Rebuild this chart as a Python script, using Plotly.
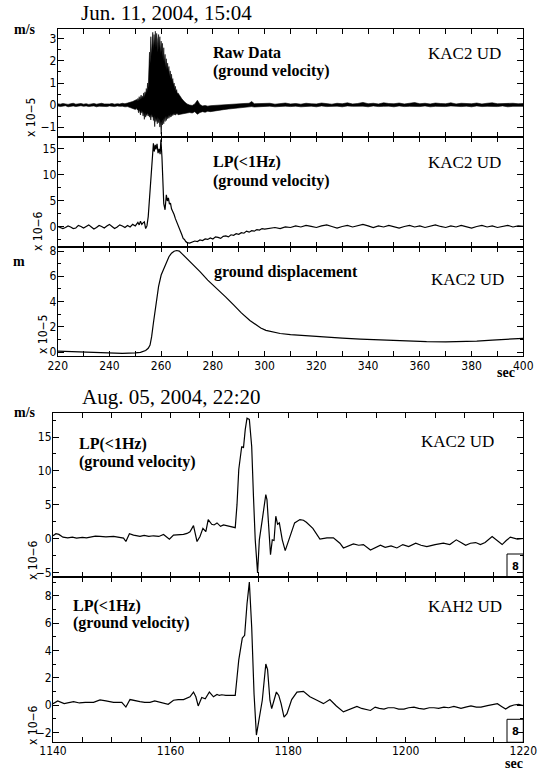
import plotly.graph_objects as go

# ---------------- data ----------------
# Jun. 11 event, KAC2 UD raw velocity (x1e-5 m/s): upper / lower envelope of the dense trace
raw_t_a = [220, 221, 222, 223, 224, 225, 226, 227, 228, 229,
           230, 231, 232, 233, 234, 235, 236, 237, 238, 239,
           240, 241, 242, 243, 244, 245, 246, 247, 248, 249, 250]
raw_hi_a = [0.06, 0.04, 0.07, 0.05, 0.03, 0.06, 0.08, 0.04, 0.05, 0.07,
            0.04, 0.06, 0.03, 0.05, 0.07, 0.04, 0.06, 0.08, 0.05, 0.04,
            0.05, 0.07, 0.04, 0.06, 0.05, 0.08, 0.06, 0.09, 0.12, 0.16, 0.22]
raw_lo_a = [-0.04, -0.07, -0.05, -0.03, -0.08, -0.05, -0.04, -0.07, -0.06, -0.03,
            -0.06, -0.04, -0.07, -0.05, -0.04, -0.08, -0.05, -0.03, -0.06, -0.07,
            -0.04, -0.05, -0.07, -0.04, -0.06, -0.05, -0.08, -0.07, -0.12, -0.15, -0.20]

raw_t_b = [250.5, 250.75, 251, 251.25, 251.5, 251.75, 252, 252.25, 252.5, 252.75,
           253, 253.25, 253.5, 253.75, 254, 254.25, 254.5, 254.75, 255, 255.25,
           255.5, 255.75, 256, 256.25, 256.5, 256.75, 257, 257.25, 257.5, 257.75,
           258, 258.25, 258.5, 258.75, 259, 259.25, 259.5, 259.75, 260, 260.25,
           260.5, 260.75, 261, 261.25, 261.5, 261.75, 262, 262.25, 262.5, 262.75,
           263, 263.25, 263.5, 263.75, 264, 264.25, 264.5, 264.75, 265, 265.25,
           265.5, 265.75, 266, 266.25, 266.5]
raw_hi_b = [0.25, 0.18, 0.30, 0.20, 0.38, 0.22, 0.30, 0.45, 0.28, 0.40,
            0.32, 0.55, 0.35, 0.60, 0.45, 0.75, 0.55, 1.00, 0.80, 1.60,
            2.40, 1.90, 3.10, 2.20, 2.90, 3.30, 2.50, 3.20, 2.70, 3.35,
            2.60, 3.25, 3.00, 2.40, 3.20, 2.60, 3.10, 2.30, 2.90, 2.40,
            2.80, 2.00, 2.60, 1.90, 2.30, 1.70, 2.10, 1.60, 1.90, 1.50,
            1.75, 1.30, 1.55, 1.20, 1.40, 1.05, 1.20, 0.90, 1.00, 0.75,
            0.85, 0.60, 0.70, 0.50, 0.55]
raw_lo_b = [-0.15, -0.22, -0.18, -0.35, -0.20, -0.30, -0.45, -0.25, -0.35, -0.28,
            -0.50, -0.30, -0.65, -0.35, -0.55, -0.40, -0.48, -0.35, -0.50, -0.40,
            -0.55, -0.45, -0.68, -0.40, -0.55, -0.45, -0.70, -0.50, -0.98, -0.55,
            -0.75, -0.60, -0.85, -0.55, -0.80, -0.65, -1.00, -0.70, -1.32, -0.75,
            -0.90, -0.60, -0.85, -0.55, -0.75, -0.50, -0.70, -0.50, -0.62, -0.45,
            -0.60, -0.45, -0.55, -0.42, -0.52, -0.40, -0.48, -0.38, -0.45, -0.38,
            -0.46, -0.36, -0.42, -0.38, -0.44]

raw_t_c = [267, 268, 269, 270, 271, 272, 273, 274, 275, 276,
           277, 278, 279, 280, 282, 284, 286, 288, 290, 292,
           294, 295, 296, 298, 300, 302, 304, 306, 308, 310,
           312, 314, 316, 318, 320, 322, 324, 326, 328, 330,
           332, 334, 336, 338, 340, 342, 344, 346, 348, 350,
           352, 354, 356, 358, 360, 362, 364, 366, 368, 370,
           372, 374, 376, 378, 380, 382, 384, 386, 388, 390,
           392, 394, 396, 398, 400]
raw_hi_c = [0.45, 0.28, 0.15, 0.05, 0.00, -0.02, 0.05, 0.22, 0.02, -0.04,
            -0.02, -0.05, -0.03, -0.02, 0.00, 0.02, 0.03, 0.04, 0.06, 0.07,
            0.08, 0.16, 0.06, 0.07, 0.05, 0.08, 0.04, 0.06, 0.09, 0.05,
            0.07, 0.04, 0.08, 0.06, 0.05, 0.09, 0.07, 0.04, 0.08, 0.06,
            0.10, 0.05, 0.07, 0.12, 0.06, 0.08, 0.05, 0.10, 0.07, 0.06,
            0.09, 0.05, 0.08, 0.11, 0.06, 0.08, 0.05, 0.09, 0.07, 0.06,
            0.10, 0.05, 0.08, 0.07, 0.06, 0.09, 0.05, 0.08, 0.10, 0.06,
            0.07, 0.05, 0.08, 0.06, 0.07]
raw_lo_c = [-0.40, -0.40, -0.38, -0.36, -0.34, -0.36, -0.30, -0.42, -0.34, -0.30,
            -0.33, -0.28, -0.30, -0.26, -0.24, -0.21, -0.18, -0.15, -0.11, -0.09,
            -0.08, -0.07, -0.09, -0.06, -0.07, -0.05, -0.08, -0.06, -0.05, -0.07,
            -0.05, -0.08, -0.06, -0.05, -0.08, -0.04, -0.07, -0.06, -0.05, -0.08,
            -0.04, -0.06, -0.07, -0.05, -0.08, -0.04, -0.07, -0.06, -0.05, -0.08,
            -0.04, -0.07, -0.06, -0.05, -0.07, -0.04, -0.08, -0.06, -0.05, -0.07,
            -0.04, -0.06, -0.07, -0.05, -0.08, -0.04, -0.07, -0.06, -0.05, -0.07,
            -0.04, -0.08, -0.06, -0.05, -0.06]

raw_t = raw_t_a + raw_t_b + raw_t_c
raw_hi = raw_hi_a + raw_hi_b + raw_hi_c
raw_lo = raw_lo_a + raw_lo_b + raw_lo_c

# Jun. 11 event, LP(<1Hz) velocity (x1e-6 m/s)
lp1_t = [220, 221, 222, 223, 224, 225, 226, 227, 228, 229,
         230, 231, 232, 233, 234, 235, 236, 237, 238, 239,
         240, 241, 242, 243, 244, 245, 246, 247, 248, 249,
         250, 251, 251.5, 252, 252.5, 253, 253.5, 254, 254.5, 255,
         255.5, 256, 256.5, 257, 257.3, 257.7, 258, 258.4, 258.8, 259.2,
         259.6, 259.9, 260.3, 260.7, 261, 261.5, 262, 262.4, 262.8, 263.2,
         263.6, 264, 264.5, 265, 265.5, 266, 266.5, 267, 267.5, 268,
         268.5, 269, 269.5, 270, 271, 272, 273, 274, 275, 276,
         277, 278, 279, 280, 281, 282, 283, 284, 285, 286,
         287, 288, 289, 290, 291, 292, 293, 294, 295, 296,
         297, 298, 299, 300, 302, 304, 306, 308, 310, 312,
         314, 316, 318, 320, 322, 324, 326, 328, 330, 332,
         334, 336, 338, 340, 342, 344, 346, 348, 350, 352,
         354, 356, 358, 360, 362, 364, 366, 368, 370, 372,
         374, 376, 378, 380, 382, 384, 386, 388, 390, 392,
         394, 396, 398, 400]
lp1_v = [0.1, -0.1, -0.3, -0.1, 0.2, 0.0, -0.3, -0.2, 0.3, 0.1,
         -0.2, 0.1, 0.4, 0.0, -0.4, -0.1, 0.3, 0.1, -0.2, 0.2,
         0.5, 0.1, -0.3, 0.0, 0.4, 0.2, -0.1, 0.3, 0.0, 0.5,
         0.2, 0.9, 0.4, 1.1, 0.5, 0.8, 1.0, -0.3, 0.2, 2.0,
         5.5, 9.5, 13.0, 16.1, 14.5, 15.8, 14.9, 16.0, 14.2, 15.0,
         14.0, 16.8, 13.5, 8.0, 4.5, 3.3, 6.2, 5.0, 5.6, 4.4,
         4.6, 3.5, 3.0, 2.4, 1.6, 1.0, 0.6, -0.2, -0.8, -1.5,
         -2.2, -2.4, -2.8, -3.0, -3.1, -2.9, -2.7, -2.8, -2.5, -2.6,
         -2.3, -2.4, -2.1, -2.3, -1.9, -2.0, -2.2, -1.8, -1.7, -1.9,
         -1.5, -1.6, -1.3, -1.4, -1.1, -1.2, -0.8, -1.0, -0.7, -0.8,
         -0.5, -0.6, -0.3, -0.4, -0.2, -0.1, -0.3, 0.0, -0.1, 0.2,
         0.0, 0.3, 0.1, -0.1, 0.2, 0.4, 0.1, -0.2, 0.1, 0.3,
         0.0, 0.2, 0.5, 0.2, -0.1, 0.2, 0.0, 0.3, 0.1, -0.2,
         0.1, 0.3, 0.0, 0.2, -0.1, 0.2, 0.4, 0.1, -0.1, 0.2,
         0.0, 0.3, 0.1, -0.2, 0.1, 0.3, 0.0, 0.2, -0.1, 0.1,
         0.3, 0.0, 0.2, 0.1]

# Jun. 11 event, ground displacement (x1e-5 m)
disp_t = [220, 225, 230, 235, 240, 245, 250, 252, 254, 255,
          255.7, 256.3, 257, 258, 259, 260, 260.6, 261.5, 262.1, 263,
          264, 265, 266, 267, 268, 269, 270.5, 272, 275, 278,
          281.5, 285, 288, 291, 294.3, 296.5, 298.5, 300.5, 303, 306,
          310, 315, 321.4, 330, 337, 345, 350, 356, 362.6, 370,
          375.5, 382, 388, 394, 400]
disp_v = [0.08, 0.05, 0.0, -0.05, -0.08, -0.10, -0.06, -0.03, 0.12, 0.30,
          0.55, 1.2, 2.3, 3.8, 5.2, 6.1, 6.4, 6.85, 7.17, 7.55,
          7.83, 7.98, 8.04, 8.0, 7.8, 7.6, 7.3, 7.0, 6.37, 5.7,
          5.05, 4.35, 3.73, 3.1, 2.5, 2.15, 1.9, 1.72, 1.58, 1.47,
          1.38, 1.3, 1.21, 1.1, 1.03, 0.95, 0.9, 0.86, 0.82, 0.81,
          0.82, 0.87, 0.95, 1.0, 1.08]

# Aug. 05 event, KAC2 UD LP(<1Hz) velocity (x1e-6 m/s)
kac_t = [1140, 1140.5, 1141, 1141.7, 1142.5, 1143.3, 1144, 1145, 1145.7, 1146.5,
         1147.2, 1148, 1149, 1150.3, 1151, 1152, 1152.4, 1153, 1153.7, 1154.8,
         1155.5, 1156.3, 1157.1, 1158, 1158.8, 1159.3, 1159.8, 1160.5, 1161.3, 1162.2,
         1162.8, 1163.3, 1163.9, 1164.2, 1164.5, 1165, 1165.5, 1166, 1166.4, 1167,
         1167.4, 1167.9, 1168.5, 1169, 1169.6, 1170.2, 1170.7, 1171, 1171.3, 1171.6,
         1172.1, 1172.4, 1172.7, 1173, 1173.4, 1173.8, 1174.1, 1174.4, 1174.8, 1175.1,
         1175.6, 1176.2, 1176.4, 1176.7, 1177.0, 1177.3, 1177.6, 1177.9, 1178.2, 1178.5,
         1179, 1179.5, 1180.1, 1181.1, 1182, 1182.6, 1183.1, 1184.2, 1185.4, 1186.6,
         1187.7, 1188.8, 1189.4, 1190.2, 1191.1, 1192, 1192.8, 1194, 1195, 1195.7,
         1196.5, 1197.5, 1198.5, 1199.5, 1200.5, 1201.7, 1202.6, 1203.6, 1205, 1206.4,
         1207.5, 1208.6, 1209.4, 1210.2, 1211, 1211.9, 1212.7, 1213.5, 1214.7, 1215.5,
         1216.4, 1217.1, 1217.8, 1219, 1220]
kac_v = [0.4, 0.7, 0.6, 0.2, 0.1, 0.2, 0.05, 0.15, 0.1, 0.2,
         0.35, 0.3, 0.25, 0.3, 0.2, 0.05, -0.45, 0.7, 0.5, 0.3,
         0.45, 0.3, 0.4, 0.3, 0.6, 0.3, -0.1, 0.5, 0.55, 0.6,
         0.75, 1.0, 1.9, 0.8, -0.45, 0.3, 1.5, 1.0, 2.8, 2.1,
         2.0, 2.3, 1.8, 2.0, 1.9, 1.8, 1.7, 1.6, 5.0, 10.2,
         13.6, 13.4, 16.1, 17.8, 17.6, 13.6, 6.2, -0.2, -5.1, -0.2,
         2.8, 6.5, 5.7, 1.3, -2.4, -0.2, -0.3, 3.3, 2.1, 2.3,
         -0.2, -1.8, -0.2, 2.3, 2.8, 2.7, 2.4, 1.5, -0.1, 0.1,
         0.1, -0.7, -1.4, -1.1, -0.8, -1.0, -0.9, -1.7, -1.3, -1.0,
         -1.3, -1.1, -1.4, -0.9, -1.2, -0.7, -1.0, -1.2, -0.9, -0.7,
         -0.9, -0.2, -0.6, -1.0, -0.7, -0.6, -0.9, -0.6, 0.3, -0.2,
         -0.9, -0.3, 0.2, -0.1, 0.0]

# Aug. 05 event, KAH2 UD LP(<1Hz) velocity (x1e-6 m/s)
kah_t = [1140, 1140.8, 1141.9, 1142.7, 1143.5, 1144.5, 1145.5, 1146.9, 1148, 1149,
         1150.3, 1151.7, 1152.4, 1153.1, 1154, 1154.8, 1155.6, 1156.5, 1157.3, 1158.2,
         1159, 1159.6, 1160.5, 1161.3, 1162.2, 1162.8, 1163.3, 1163.9, 1164.3, 1164.7,
         1165.3, 1165.9, 1166.6, 1167.3, 1167.9, 1168.3, 1168.7, 1169.4, 1170.2, 1171,
         1171.3, 1171.6, 1172.2, 1172.6, 1173, 1173.4, 1173.8, 1174.2, 1174.6, 1175,
         1175.6, 1176.2, 1176.5, 1176.9, 1177.2, 1177.6, 1178, 1178.4, 1178.8, 1179.3,
         1179.8, 1180.6, 1181.5, 1182.6, 1183.7, 1184.9, 1186, 1187.1, 1188.2, 1189.4,
         1190.5, 1191.7, 1192.5, 1193.4, 1194, 1194.8, 1195.5, 1196.3, 1197, 1198,
         1198.8, 1199.7, 1200.5, 1201.4, 1202.2, 1203.1, 1204, 1204.8, 1205.6, 1206.5,
         1207.3, 1208.2, 1209.4, 1210.2, 1211.1, 1212, 1212.8, 1213.9, 1214.8, 1215.6,
         1216.3, 1217, 1217.7, 1218.4, 1219.2, 1220]
kah_v = [0.1, 0.3, 0.1, 0.2, 0.25, 0.15, 0.2, 0.2, 0.37, 0.3,
         0.2, 0.2, -0.15, 0.4, 0.3, 0.25, 0.2, 0.2, 0.3, 0.2,
         0.15, 0.05, 0.35, 0.4, 0.4, 0.5, 0.6, 0.95, 0.6, -0.07,
         0.55, 0.45, 0.95, 0.6, 0.77, 0.7, 0.75, 0.7, 0.72, 0.71,
         2.0, 3.3, 4.9, 5.1, 7.4, 9.0, 5.7, 0.8, -2.2, -1.1,
         0.35, 3.0, 2.6, 0.35, -0.27, 0.35, 0.95, 0.7, 0.1, -0.88,
         -0.63, 0.4, 0.95, 1.0, 0.6, 0.35, 0.1, 0.4, -0.07, -0.5,
         -0.3, -0.1, -0.25, -0.32, -0.4, -0.15, -0.25, -0.3, -0.2, -0.2,
         -0.3, -0.3, -0.2, -0.15, -0.25, -0.3, -0.2, -0.2, -0.25, -0.15,
         -0.2, -0.1, -0.25, -0.15, -0.07, -0.15, -0.15, -0.05, 0.0, 0.1,
         -0.1, -0.3, -0.1, 0.0, 0.05, -0.05]

assert len(raw_t) == len(raw_hi) == len(raw_lo)
assert len(lp1_t) == len(lp1_v)
assert len(disp_t) == len(disp_v)
assert len(kac_t) == len(kac_v)
assert len(kah_t) == len(kah_v)

# ---------------- figure ----------------
W, H = 540, 772
def fx(p):
    return p / W
def fy(p):
    return 1 - p / H

SERIF = "Liberation Serif, Times New Roman, serif"
NARROW = "Liberation Sans Narrow, Arial Narrow, DejaVu Sans Condensed, sans-serif"
tick_font = dict(family=NARROW, size=12, color="black")

fig = go.Figure()
trace_line = dict(color="black", width=1.2)

fig.add_trace(go.Scatter(x=raw_t + raw_t[::-1], y=raw_hi + raw_lo[::-1],
                         mode="lines", fill="toself", fillcolor="black",
                         line=dict(color="black", width=0.6),
                         xaxis="x", yaxis="y", hoverinfo="skip"))
fig.add_trace(go.Scatter(x=lp1_t, y=lp1_v, mode="lines", line=trace_line,
                         xaxis="x2", yaxis="y2"))
fig.add_trace(go.Scatter(x=disp_t, y=disp_v, mode="lines", line=trace_line,
                         xaxis="x3", yaxis="y3"))
fig.add_trace(go.Scatter(x=kac_t, y=kac_v, mode="lines", line=trace_line,
                         xaxis="x4", yaxis="y4"))
fig.add_trace(go.Scatter(x=kah_t, y=kah_v, mode="lines", line=trace_line,
                         xaxis="x5", yaxis="y5"))

TOP_X = [fx(57.7), fx(523.3)]
BOT_X = [fx(53.0), fx(523.3)]

def xaxis(domain, anchor, rng, dtick, mdtick, labels, standoff):
    return dict(domain=domain, anchor=anchor, range=rng, showline=True,
                linecolor="black", linewidth=1, mirror="allticks",
                ticks="inside", ticklen=5, tickwidth=1, tickcolor="black",
                tick0=rng[0], dtick=dtick, showticklabels=labels,
                ticklabelstandoff=standoff, automargin=False,
                tickfont=tick_font, showgrid=False, zeroline=False,
                minor=dict(ticks="inside", ticklen=5, tickwidth=1,
                           tickcolor="black", dtick=mdtick, tick0=rng[0],
                           showgrid=False))

def yaxis(ytop, ybot, anchor, rng, dtick, mdtick):
    return dict(domain=[fy(ybot), fy(ytop)], anchor=anchor, range=rng,
                showline=True, linecolor="black", linewidth=1,
                mirror="allticks", ticks="inside", ticklen=6, tickwidth=1,
                tickcolor="black", tick0=0, dtick=dtick, tickfont=tick_font,
                ticklabelstandoff=-2, automargin=False,
                showgrid=False, zeroline=False,
                minor=dict(ticks="inside", ticklen=3, tickwidth=1,
                           tickcolor="black", dtick=mdtick, tick0=0,
                           showgrid=False))

fig.update_layout(
    width=W, height=H,
    margin=dict(l=0, r=0, t=0, b=0, pad=0, autoexpand=False),
    paper_bgcolor="white", plot_bgcolor="white", showlegend=False,
    xaxis=xaxis(TOP_X, "y", [220, 400], 20, 10, False, -1),
    xaxis2=xaxis(TOP_X, "y2", [220, 400], 20, 10, False, -1),
    xaxis3=xaxis(TOP_X, "y3", [220, 400], 20, 10, True, -1),
    xaxis4=xaxis(BOT_X, "y4", [1140, 1220], 20, 5, False, -3),
    xaxis5=xaxis(BOT_X, "y5", [1140, 1220], 20, 5, True, -3),
    yaxis=yaxis(29, 137, "x", [-1.45, 3.45], 1, 0.5),
    yaxis2=yaxis(137, 247, "x2", [-3.85, 17.3], 5, 2.5),
    yaxis3=yaxis(247, 355.7, "x3", [-0.29, 8.32], 2, 1),
    yaxis4=yaxis(412.7, 577.3, "x4", [-5.74, 18.6], 5, 2.5),
    yaxis5=yaxis(577.3, 742.3, "x5", [-2.73, 9.35], 2, 1),
)

anns = []
def ann(text, x, y, size, family=SERIF, xanchor="center", yanchor="middle", angle=0):
    anns.append(dict(text=text, x=fx(x), y=fy(y), xref="paper", yref="paper",
                     showarrow=False, xanchor=xanchor, yanchor=yanchor,
                     textangle=angle, borderpad=0,
                     font=dict(family=family, size=size, color="black")))

# titles
ann("Jun. 11, 2004, 15:04", 166, 13, 21)
ann("Aug. 05, 2004, 22:20", 171, 397, 21)
# units
ann("<b>m/s</b>", 25, 29, 14)
ann("<b>m</b>", 19, 261, 14)
ann("<b>m/s</b>", 25, 412, 14)
ann("<b>sec</b>", 506, 373, 14)
ann("<b>sec</b>", 514, 763, 14)
# scale factors
ann("x 10−5", 31, 118, 12, NARROW, angle=-90)
ann("x 10−6", 38, 231, 12, NARROW, angle=-90)
ann("x 10−5", 43, 335, 12, NARROW, angle=-90)
ann("x 10−6", 33, 560, 12, NARROW, angle=-90)
ann("x 10−6", 33, 725, 12, NARROW, angle=-90)
# panel texts
ann("<b>Raw Data</b>", 212, 52, 16, xanchor="left")
ann("<b>(ground velocity)</b>", 212, 71, 16, xanchor="left")
ann("KAC2 UD", 502, 53, 17, xanchor="right")
ann("<b>LP(&lt;1Hz)</b>", 212, 162, 16, xanchor="left")
ann("<b>(ground velocity)</b>", 212, 181, 16, xanchor="left")
ann("KAC2 UD", 502, 163, 17, xanchor="right")
ann("<b>ground displacement</b>", 213, 272, 16, xanchor="left")
ann("KAC2 UD", 505, 280, 17, xanchor="right")
ann("<b>LP(&lt;1Hz)</b>", 78, 444, 16, xanchor="left")
ann("<b>(ground velocity)</b>", 78, 462, 16, xanchor="left")
ann("KAC2 UD", 495, 441, 17, xanchor="right")
ann("<b>LP(&lt;1Hz)</b>", 72, 606, 16, xanchor="left")
ann("<b>(ground velocity)</b>", 72, 623, 16, xanchor="left")
ann("KAH2 UD", 503, 606, 17, xanchor="right")
# small boxed "8"
ann("<b>8</b>", 515, 566, 11, NARROW)
ann("<b>8</b>", 515, 731, 11, NARROW)

shapes = [
    dict(type="rect", xref="paper", yref="paper", x0=fx(507), x1=fx(523.3),
         y0=fy(577.3), y1=fy(554), line=dict(color="black", width=1)),
    dict(type="rect", xref="paper", yref="paper", x0=fx(507), x1=fx(523.3),
         y0=fy(742.3), y1=fy(719.3), line=dict(color="black", width=1)),
]
fig.update_layout(annotations=anns, shapes=shapes)

fig.write_html("out.html", config={"displayModeBar": False},
               post_script="document.body.style.margin='0';document.body.style.padding='0';")
